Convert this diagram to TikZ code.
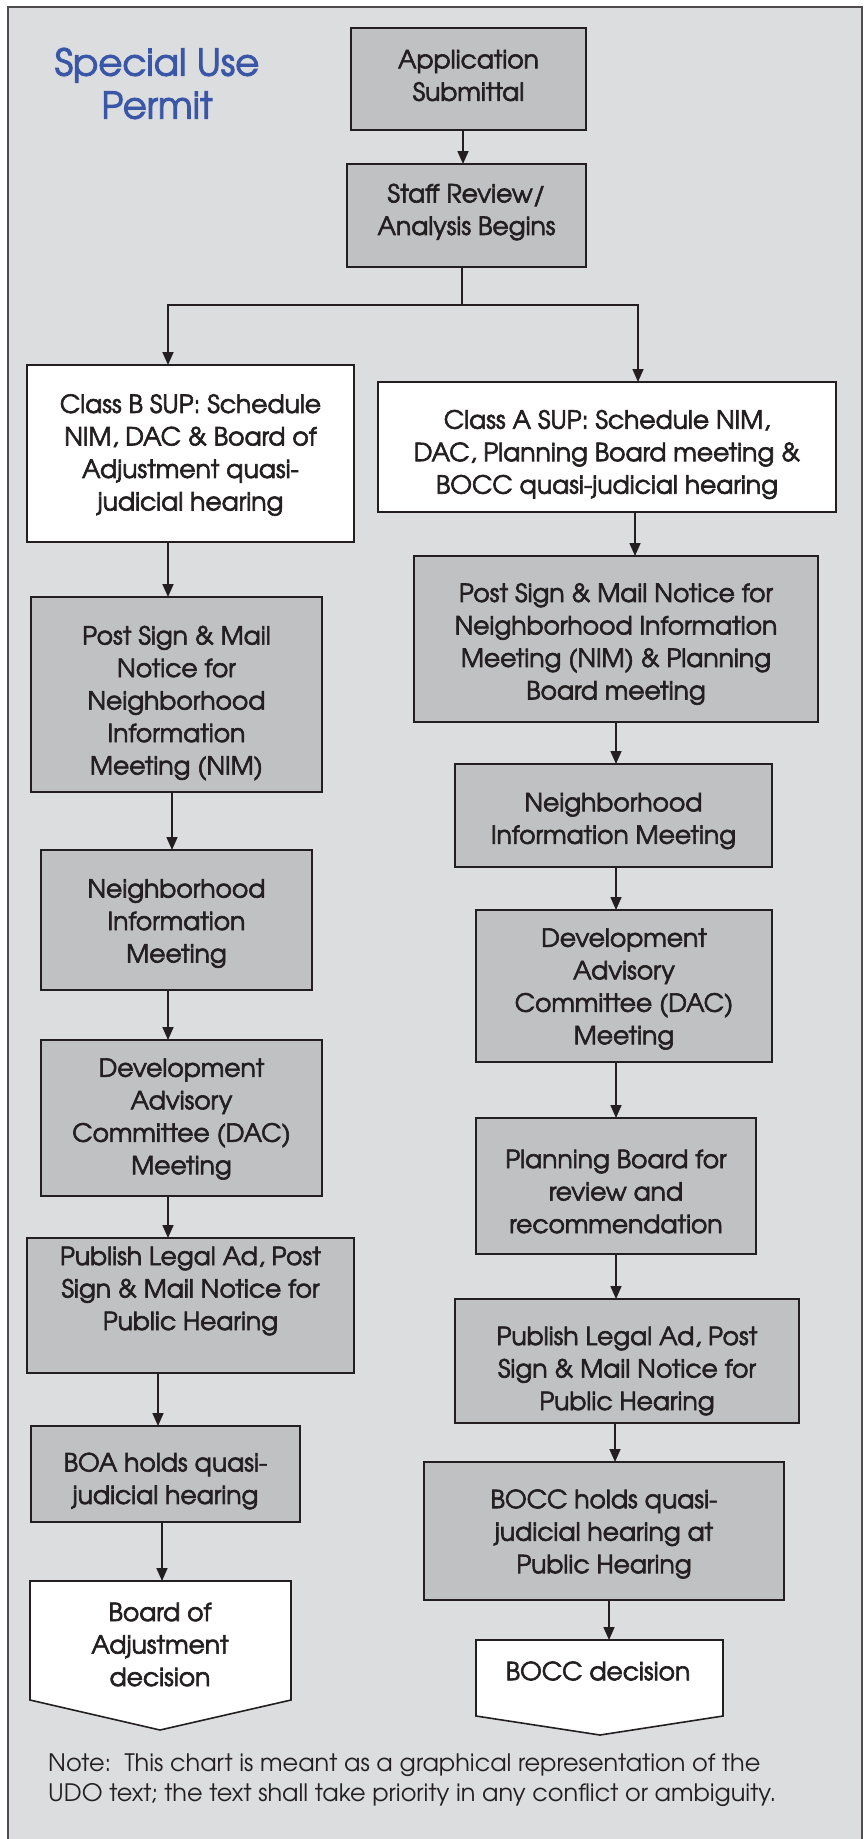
\documentclass[tikz,border=0pt]{standalone}
\usepackage{fontspec}
\setmainfont{texgyreadventor}[Extension=.otf, UprightFont=*-regular, BoldFont=*-bold, ItalicFont=*-italic, BoldItalicFont=*-bolditalic]
\newfontfamily\medfont{texgyreadventor}[Extension=.otf, UprightFont=*-regular, FakeBold=2.5]
\usetikzlibrary{arrows.meta,calc}
\definecolor{bg}{HTML}{DCDDDF}
\definecolor{boxg}{HTML}{C0C1C3}
\definecolor{ink}{HTML}{231F20}
\definecolor{ttl}{HTML}{3A57A7}
\newcommand\flowbox[8]{%
  \node[#2, minimum width={#5-#3}, minimum height={#6-#4}] (#1) at ({(#3+#5)/2},{(#4+#6)/2}) {};
  \node[txt] (#1-t) at ({(#3+#5)/2},{(#4+#6)/2+#7}) {#8};
}
\begin{document}
\begin{tikzpicture}[x=1pt,y=-1pt,
  box/.style={draw=ink, line width=1.6pt, rectangle, inner sep=0pt, outer sep=0pt},
  gbox/.style={box, fill=boxg},
  wbox/.style={box, fill=white},
  txt/.style={align=center, font=\medfont\fontsize{25}{32.5}\selectfont, text=ink, inner sep=0pt},
  ln/.style={draw=ink, line width=1.6pt},
  arr/.style={ln, -{Triangle[length=13pt,width=11pt]}},
  frame/.style={draw=ink!80, line width=1.6pt, fill=bg},
  penta/.style={draw=ink, line width=1.6pt, fill=white, line join=miter},
]
\useasboundingbox (0,0) rectangle (865,1839);
\path[frame] (8,7) rectangle (862,1850);

\node[align=center, text=ttl, font=\medfont\fontsize{37}{43}\selectfont, inner sep=0pt] (title) at (157,83.5) {Special Use\\Permit};

% centre column
\flowbox{app}{gbox}{351}{28}{586}{130}{-3.5}{Application\\Submittal}
\flowbox{staff}{gbox}{347}{164}{586}{267}{-3.5}{Staff Review/\\Analysis Begins}

% left column (Class B)
\flowbox{clB}{wbox}{27}{365}{354}{542}{1.5}{Class B SUP: Schedule\\NIM, DAC \& Board of\\Adjustment quasi-\\judicial hearing}
\flowbox{postB}{gbox}{31}{597}{322}{792}{8.5}{Post Sign \& Mail\\Notice for\\Neighborhood\\Information\\Meeting (NIM)}
\flowbox{nimB}{gbox}{41}{850}{312}{990}{3.5}{Neighborhood\\Information\\Meeting}
\flowbox{dacB}{gbox}{41}{1040}{322}{1196}{1}{Development\\Advisory\\Committee (DAC)\\Meeting}
\flowbox{pubB}{gbox}{27}{1238}{354}{1373}{-14.5}{Publish Legal Ad, Post\\Sign \& Mail Notice for\\Public Hearing}
\flowbox{boa}{gbox}{31}{1426}{300}{1522}{7}{BOA holds quasi-\\judicial hearing}
\path[penta] (30,1581) -- (291,1581) -- (291,1700) -- (160,1730) -- (30,1700) -- cycle;
\coordinate (boaDtop) at (162,1581);
\node[txt] (boaD-t) at (160,1644.5) {Board of\\Adjustment\\decision};

% right column (Class A)
\flowbox{clA}{wbox}{378}{382}{836}{512}{7.5}{Class A SUP: Schedule NIM,\\DAC, Planning Board meeting \&\\BOCC quasi-judicial hearing}
\flowbox{postA}{gbox}{414}{556}{818}{722}{5}{Post Sign \& Mail Notice for\\Neighborhood Information\\Meeting (NIM) \& Planning\\Board meeting}
\flowbox{nimA}{gbox}{455}{764}{772}{867}{5.5}{Neighborhood\\Information Meeting}
\flowbox{dacA}{gbox}{476}{910}{772}{1062}{3}{Development\\Advisory\\Committee (DAC)\\Meeting}
\flowbox{plan}{gbox}{476}{1118}{756}{1254}{5.5}{Planning Board for\\review and\\recommendation}
\flowbox{pubA}{gbox}{455}{1299}{799}{1423}{10}{Publish Legal Ad, Post\\Sign \& Mail Notice for\\Public Hearing}
\flowbox{bocc}{gbox}{424}{1462}{784}{1600}{3}{BOCC holds quasi-\\judicial hearing at\\Public Hearing}
\path[penta] (476,1640) -- (723,1640) -- (723,1716) -- (600,1735) -- (476,1716) -- cycle;
\coordinate (boccDtop) at (609,1640);
\node[txt] (boccD-t) at (598,1671) {BOCC decision};

% note
\node[align=left, anchor=north west, text=ink, font=\fontsize{24}{30}\selectfont, inner sep=0pt] (note) at (48,1754)
  {Note:\ \ This chart is meant as a graphical representation of the\\UDO text; the text shall take priority in any conflict or ambiguity.};

% connectors
\coordinate (split) at (462,305);
\draw[arr] ([xshift=-5.5pt]app.south) -- ([xshift=-3.5pt]staff.north);
\draw[ln] ([xshift=-4.5pt]staff.south) -- (split);
\draw[arr] (split) -| ([xshift=-22.5pt]clB.north);
\draw[arr] (split) -| ([xshift=31pt]clA.north);

\draw[arr] ([xshift=-22.5pt]clB.south) -- ([xshift=-8.5pt]postB.north);
\draw[arr] ([xshift=-4.5pt]postB.south) -- ([xshift=-4.5pt]nimB.north);
\draw[arr] ([xshift=-8.5pt]nimB.south) -- ([xshift=-13.5pt]dacB.north);
\draw[arr] ([xshift=-13.5pt]dacB.south) -- ([xshift=-22.5pt]pubB.north);
\draw[arr] ([xshift=-32.5pt]pubB.south) -- ([xshift=-7.5pt]boa.north);
\draw[arr] ([xshift=-3.5pt]boa.south) -- (boaDtop);

\draw[arr] ([xshift=28pt]clA.south) -- ([xshift=19pt]postA.north);
\draw[arr] ([xshift=0pt]postA.south) -- ([xshift=2.5pt]nimA.north);
\draw[arr] ([xshift=2.5pt]nimA.south) -- ([xshift=-8pt]dacA.north);
\draw[arr] ([xshift=-8pt]dacA.south) -- ([xshift=0pt]plan.north);
\draw[arr] ([xshift=0pt]plan.south) -- ([xshift=-11pt]pubA.north);
\draw[arr] ([xshift=-12pt]pubA.south) -- ([xshift=11pt]bocc.north);
\draw[arr] ([xshift=5pt]bocc.south) -- (boccDtop);
\end{tikzpicture}
\end{document}
